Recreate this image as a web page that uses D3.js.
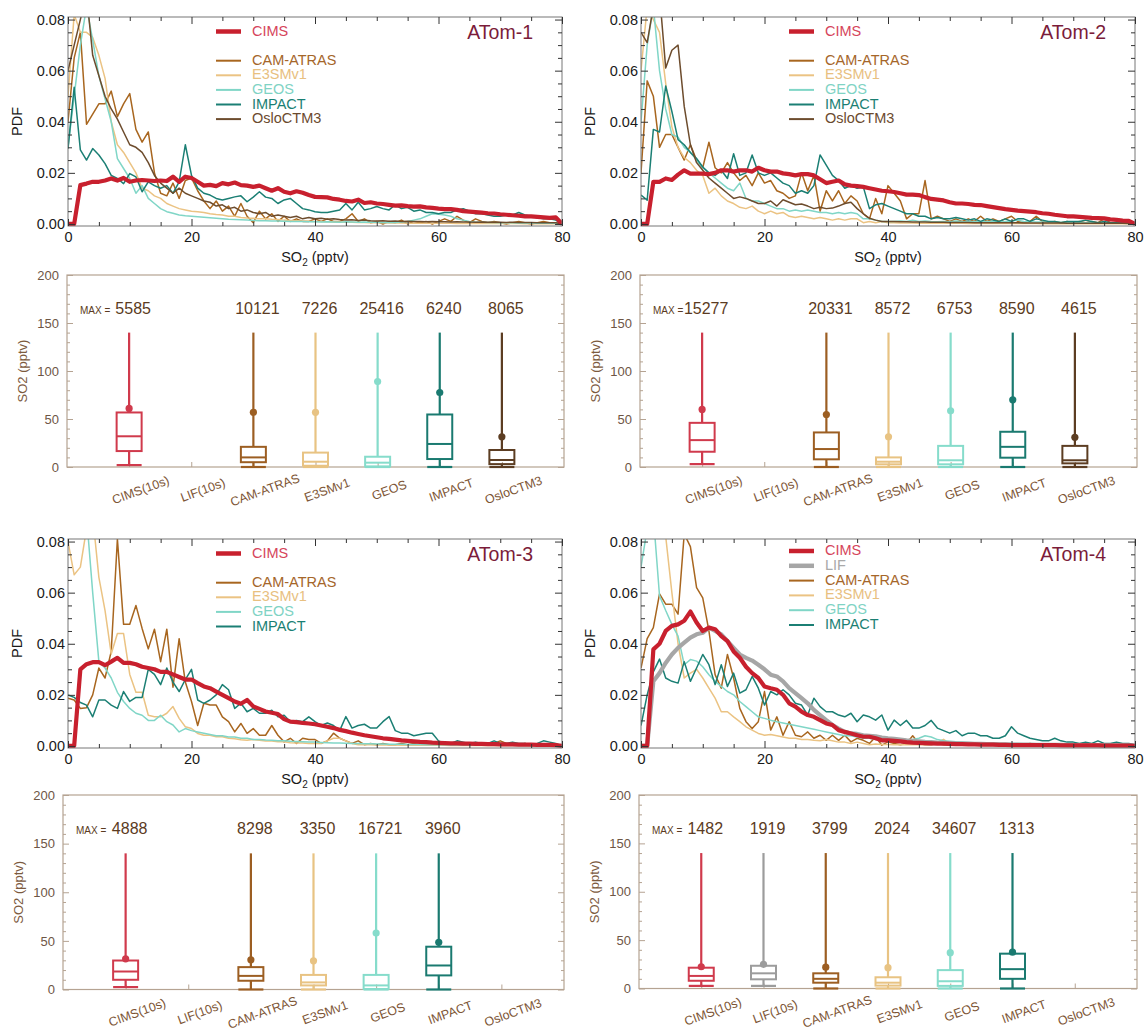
<!DOCTYPE html>
<html><head><meta charset="utf-8">
<script src="https://cdn.jsdelivr.net/npm/d3@7"></script>
<style>body{margin:0;background:#fff;} svg{display:block;}</style>
</head><body>
<script>
// ---------------- DATA ----------------
const so2Bins = [0,1,2,3,4,5,6,7,8,9,10,11,12,13,14,15,16,17,18,19,20,21,22,23,24,25,26,27,28,29,30,31,32,33,34,35,36,37,38,39,40,41,42,43,44,45,46,47,48,49,50,51,52,53,54,55,56,57,58,59,60,61,62,63,64,65,66,67,68,69,70,71,72,73,74,75,76,77,78,79,80];
const pdfXTicks = [0, 20, 40, 60, 80];
const pdfYTicks = [0, 0.02, 0.04, 0.06, 0.08];
const boxYTicks = [0, 50, 100, 150, 200];
const boxCategories = ["CIMS(10s)", "LIF(10s)", "CAM-ATRAS", "E3SMv1", "GEOS", "IMPACT", "OsloCTM3"];
const campaigns = ["ATom-1", "ATom-2", "ATom-3", "ATom-4"];

// ATom-1 PDFs
const atom1Cims = [0,0,.0152,.0158,.0165,.0165,.017,.0178,.017,.018, .0165,.017,.0172,.017,.0168,.017,.0168,.0185,.0165,.0185, .018,.0165,.015,.0153,.0148,.016,.0155,.0162,.0152,.015, .0145,.015,.014,.013,.014,.0126,.012,.0128,.0122,.0113, .0106,.0105,.0104,.0098,.0095,.009,.0088,.0095,.0082,.0085, .008,.0078,.0075,.0072,.0073,.007,.0068,.0069,.0065,.0063, .006,.0058,.0058,.0055,.005,.0048,.0046,.0044,.0042,.0041, .0038,.0036,.0034,.0032,.003,.003,.0028,.0026,.0024,.0026, 0];
const atom1Cam = [.04,.065,.075,.039,.043,.047,.047,.052,.042,.047, .051,.037,.032,.036,.02,.012,.011,.016,.01,.017, .018,.013,.009,.006,.009,.005,.007,.003,.008,.003, .0005,.005,.002,.004,.001,.003,.001,.002,.001,.001, .002,.001,.002,.001,.001,.002,.004,.001,.002,.0005, .001,0,.001,.0005,.0015,0,.001,.0005,.001,0, .001,.002,.001,.003,.0015,.0005,.002,.001,.0005,.001, .0005,0,.0005,.001,.0005,0,.0005,.001,.0005,.0005, 0];
const atom1E3sm = [.05,.082,.075,.075,.073,.066,.057,.04,.031,.028, .024,.02,.014,.013,.011,.01,.008,.007,.006,.0055, .005,.0048,.0045,.004,.0037,.0035,.003,.003,.0025,.0023, .0022,.002,.002,.0018,.0017,.0015,.0014,.0013,.0012,.0011, .001,.001,.0009,.0008,.0008,.0007,.0007,.0006,.0006,.0005, .0005,.0005,.0004,.0004,.0004,.0003,.0003,.0003,.0003,.0003, .0003,.0003,.0003,.0002,.0002,.0002,.0002,.0002,.0002,.0002, .0002,.0002,.0002,.0002,.0001,.0001,.0001,.0001,.0001,.0001, 0];
const atom1Geos = [.03,.05,.07,.085,.072,.058,.049,.04,.0256,.0217, .0178,.012,.015,.01,.008,.006,.0048,.0042,.0035,.0032, .003,.0028,.0026,.0024,.0022,.002,.0018,.0017,.0016,.0015, .0014,.0013,.0013,.0012,.0012,.0011,.001,.001,.001,.0009, .0009,.0008,.0009,.0008,.0007,.0009,.0008,.0007,.0008,.0007, .0007,.0006,.0007,.0006,.0008,.001,.0015,.002,.003,.004, .0038,.0035,.003,.002,.0015,.001,.0008,.0007,.0006,.0006, .0005,.0005,.0005,.0004,.0004,.0004,.0003,.0003,.0003,.0003, 0];
const atom1Impact = [.0295,.0535,.029,.025,.0295,.027,.0236,.019,.0178,.0158, .0197,.0184,.0126,.0165,.015,.014,.015,.012,.0165,.031, .019,.014,.012,.0113,.01,.0094,.01,.0106,.011,.0087, .0105,.0126,.0105,.01,.008,.0094,.01,.008,.006,.0055, .0048,.0045,.0045,.005,.0055,.008,.0055,.0085,.0055,.006, .0068,.006,.0055,.0075,.006,.0065,.005,.0055,.0045,.0045, .004,.0045,.0045,.0055,.006,.005,.004,.004,.0035,.003, .003,.0035,.0035,.0045,.0035,.003,.0025,.002,.002,.0015, 0];
const atom1Oslo = [.06,.07,.08,.09,.066,.058,.05,.045,.041,.036, .031,.03,.028,.024,.019,.016,.014,.012,.014,.012, .011,.01,.009,.0085,.007,.0075,.006,.0065,.005,.0055, .0045,.004,.0045,.003,.0035,.003,.0025,.003,.002,.0025, .002,.0022,.0018,.002,.0017,.0015,.0016,.0014,.0015,.0013, .0012,.0013,.0011,.0012,.001,.0011,.001,.001,.0009,.001, .0009,.0009,.0008,.0009,.0008,.0008,.0007,.0008,.0007,.0007, .0007,.0006,.0007,.0006,.0006,.0006,.0005,.0005,.0005,.0005, 0];

// ATom-2 PDFs
const atom2Cims = [0,0,.0165,.0165,.0178,.0172,.0193,.021,.0197,.0197, .0197,.0195,.02,.021,.021,.0205,.021,.021,.0205,.022, .021,.0205,.0205,.0198,.0195,.019,.0195,.0195,.019,.0175, .016,.0165,.017,.0155,.015,.0148,.0145,.014,.0135,.013, .0128,.0125,.012,.0115,.0115,.0113,.0105,.0098,.0095,.0092, .0085,.008,.008,.0078,.0075,.0074,.007,.0066,.0062,.0058, .0055,.0052,.005,.0048,.0046,.0042,.004,.0036,.0033,.003, .003,.0028,.0026,.0024,.0023,.0022,.0018,.0016,.0013,.0012, 0];
const atom2Cam = [.02,.056,.05,.03,.035,.035,.03,.025,.031,.025, .022,.032,.022,.02,.024,.02,.017,.019,.015,.02, .016,.017,.013,.012,.01,.011,.02,.013,.019,.005, .013,.009,.013,.008,.011,.009,.004,.002,.01,.004, .015,.012,.009,.002,.004,.004,.017,.002,.003,.002, .001,.002,.001,.002,.001,.003,.001,.002,.001,.002, .003,.001,.0005,.001,.003,.001,.0005,.001,.0005,.001, .0005,.001,.0005,.001,.0005,.002,.0005,.0005,.0005,.0005, 0];
const atom2E3sm = [.06,.085,.08,.075,.055,.038,.03,.026,.024,.021, .019,.012,.014,.011,.009,.008,.0065,.006,.007,.005, .004,.005,.004,.0045,.003,.0025,.003,.0025,.002,.0025, .002,.0015,.002,.0015,.002,.002,.0005,.001,.0005,.001, .0005,.0005,.0004,.0004,.0004,.0003,.0003,.0003,.0003,.0003, .0003,.0003,.0003,.0002,.0002,.0002,.0002,.0002,.0002,.0002, .0002,.0002,.0002,.0002,.0002,.0001,.0001,.0001,.0001,.0001, .0001,.0001,.0001,.0001,.0001,.0001,.0001,.0001,.0001,.0001, 0];
const atom2Geos = [.04,.07,.085,.06,.045,.035,.034,.03,.028,.025, .022,.02,.018,.016,.014,.013,.016,.01,.009,.009, .008,.007,.006,.006,.005,.0055,.005,.0055,.005,.0045, .0045,.004,.0045,.004,.0045,.004,.002,.002,.0015,.001, .001,.001,.0012,.001,.0015,.001,.0012,.001,.0009,.001, .0009,.0012,.001,.0009,.001,.0008,.001,.0009,.0008,.001, .0012,.0015,.001,.0009,.0008,.0008,.0007,.0008,.0007,.0006, .0006,.0006,.0005,.0006,.0005,.0005,.0005,.0004,.0004,.0004, 0];
const atom2Impact = [.0113,.0093,.037,.036,.054,.044,.033,.031,.028,.0256, .0223,.02,.019,.021,.0178,.0275,.019,.02,.027,.02, .019,.02,.018,.016,.015,.012,.013,.012,.015,.027, .023,.019,.017,.014,.015,.014,.0145,.006,.0075,.008, .007,.006,.005,.004,.004,.003,.003,.002,.0025,.002, .002,.0025,.002,.0015,.002,.001,.002,.0015,.001,.002, .001,.002,.002,.001,.002,.0015,.001,.001,.0005,.001, .001,.001,.0015,.001,.0005,.001,.0005,.0005,.0005,.0005, 0];
const atom2Oslo = [.075,.071,.085,.09,.061,.068,.07,.046,.031,.024, .021,.018,.016,.014,.012,.01,.0106,.01,.009,.008, .008,.009,.007,.0095,.0085,.0075,.0078,.007,.006,.0065, .006,.0062,.007,.008,.0085,.006,.004,.0022,.0015,.001, .001,.001,.0009,.0009,.0008,.0008,.0008,.0007,.0007,.0007, .0006,.0006,.0006,.0006,.0005,.0005,.0005,.0005,.0005,.0005, .0005,.0005,.0004,.0004,.0004,.0004,.0004,.0004,.0004,.0003, .0003,.0003,.0003,.0003,.0003,.0003,.0003,.0003,.0003,.0002, 0];

// ATom-3 PDFs
const atom3Cims = [0,0,.03,.032,.0328,.0328,.0316,.033,.0345,.0325, .0325,.032,.031,.0305,.03,.029,.029,.028,.027,.026, .026,.0246,.0233,.0226,.0213,.02,.0187,.0174,.0165,.018, .0155,.0145,.0135,.013,.0125,.0105,.0095,.0093,.009,.0088, .0085,.008,.0075,.007,.0063,.0058,.0052,.0047,.0042,.0038, .0034,.003,.0028,.0025,.0022,.002,.0018,.0016,.0015,.0013, .0012,.0011,.001,.001,.0009,.0009,.0008,.0008,.0007,.0007, .0006,.0006,.0006,.0005,.0005,.0005,.0004,.0004,.0004,.0003, 0];
const atom3Cam = [.0187,.018,.0147,.015,.02,.0305,.0266,.037,.081,.0476, .0476,.055,.046,.038,.0457,.033,.0457,.023,.042,.025, .0174,.008,.0167,.016,.016,.0114,.0095,.0055,.0088,.0049, .0068,.0042,.0042,.008,.0042,.0016,.003,.001,.003,.0025, .0025,.001,.002,.005,.003,.002,.001,.002,.0005,.001, .0005,.001,.0005,.0005,.001,.0005,.001,.0005,.0005,.001, .0005,.001,.0005,.0005,.001,.0005,.0005,.001,.0005,.001, .002,.001,.0005,.0005,.001,.0005,.0005,.0005,.0005,.0005, 0];
const atom3E3sm = [.08,.067,.07,.085,.09,.066,.053,.036,.044,.044, .028,.021,.021,.012,.0114,.0114,.0128,.0154,.0108,.0075, .0068,.0049,.0042,.0042,.0036,.0036,.003,.0028,.0024,.0022, .0025,.0022,.0019,.0019,.0016,.0016,.0013,.0012,.0012,.001, .001,.001,.002,.003,.003,.002,.001,.0005,.0005,.0005, .0004,.0004,.0004,.0004,.0003,.0003,.0003,.0003,.0003,.0003, .0003,.0003,.0002,.0002,.0002,.0002,.0002,.0002,.0002,.0002, .0002,.0002,.0002,.0002,.0002,.0001,.0001,.0001,.0001,.0001, 0];
const atom3Geos = [.12,.11,.1,.09,.06,.033,.0305,.0266,.021,.0174, .0147,.0128,.012,.01,.01,.012,.0095,.0082,.0055,.0068, .006,.0055,.005,.0045,.004,.004,.0035,.0035,.003,.003, .0025,.0025,.0023,.0022,.002,.002,.0018,.0017,.0016,.0015, .0015,.0014,.0013,.0012,.0012,.0011,.001,.001,.0009,.0009, .0008,.0008,.0007,.0007,.0007,.0006,.0006,.0006,.0005,.0005, .0005,.0005,.0004,.0004,.0004,.0004,.0003,.0003,.0003,.0003, .0003,.0003,.0003,.0002,.0002,.0002,.0002,.0002,.0002,.0002, 0];
const atom3Impact = [.02,.019,.017,.016,.0114,.018,.018,.016,.0147,.0213, .0174,.019,.019,.03,.028,.024,.0305,.025,.0213,.026, .03,.018,.0167,.018,.02,.024,.022,.0147,.0167,.0134, .0147,.0128,.0128,.014,.0114,.012,.0095,.01,.0095,.0114, .0095,.008,.009,.008,.006,.0115,.007,.008,.0085,.007, .007,.0095,.0115,.006,.005,.005,.004,.0045,.005,.005, .002,.001,.001,.002,.0015,.001,.0015,.001,.001,.002, .001,.001,.0015,.001,.001,.0005,.001,.002,.0015,.001, 0];

// ATom-4 PDFs
const atom4Cims = [0,0,.0378,.04,.045,.047,.0476,.049,.0526,.0483, .045,.0463,.0457,.043,.041,.037,.0345,.031,.0285,.0266, .0233,.0226,.022,.02,.0167,.0154,.0134,.0121,.0114,.0101, .0088,.0082,.0062,.0055,.0049,.0042,.0036,.0036,.003,.0022, .0022,.002,.0018,.0015,.0013,.0012,.0011,.001,.0009,.0009, .0008,.0007,.0007,.0006,.0006,.0005,.0005,.0005,.0004,.0004, .0003,.0003,.0003,.0003,.0003,.0003,.0003,.0003,.0002,.0002, .0002,.0002,.0002,.0002,.0002,.0001,.0001,.0001,.0001,.0001, 0];
const atom4Lif = [0,0,.0253,.0285,.0325,.0358,.0384,.0404,.0424,.0437, .0443,.0463,.045,.0437,.041,.0384,.0358,.0345,.0334,.0318, .03,.0279,.0272,.0253,.0226,.0207,.0187,.0167,.0141,.0121, .0101,.0082,.0068,.0055,.0049,.0047,.0042,.004,.0038,.0033, .003,.0028,.0025,.0022,.002,.0018,.0016,.0015,.0013,.0012, .001,.001,.0009,.0009,.0008,.0008,.0007,.0007,.0006,.0006, .0005,.0005,.0005,.0005,.0004,.0004,.0004,.0004,.0004,.0003, .0003,.0003,.0003,.0003,.0003,.0002,.0002,.0002,.0002,.0002, 0];
const atom4Cam = [.0305,.042,.0463,.0595,.0555,.0555,.0516,.083,.078,.062, .058,.045,.0279,.0226,.0358,.0266,.0147,.0095,.0068,.0095, .0213,.0062,.0114,.0042,.0095,.0042,.0036,.0055,.003,.0042, .0022,.0042,.0022,.0042,.0016,.003,.0022,.001,.0036,.0003, .0016,.001,.0005,.001,.004,.001,.0005,.0005,.001,.0005, .0005,.0005,.001,.0005,.0005,.0005,.001,.0005,.0005,.0005, .0005,.0005,.0005,.001,.0005,.0005,.0005,.0005,.0005,.0005, .0005,.0003,.0003,.0003,.0003,.0003,.0003,.0003,.0003,.0003, 0];
const atom4E3sm = [.11,.1,.095,.09,.082,.06,.04,.0266,.0285,.03, .0266,.0226,.0187,.0134,.0134,.0114,.0095,.0075,.0062,.0049, .0042,.0045,.004,.0035,.003,.003,.0025,.0025,.0022,.002, .0025,.002,.0015,.0015,.001,.0015,.001,.0005,.0008,.0006, .0006,.0005,.0005,.0005,.0005,.0005,.0005,.0008,.0015,.0026, .0008,.0004,.0004,.0003,.0003,.0003,.0003,.0003,.0003,.0002, .0002,.0002,.0002,.0002,.0002,.0002,.0002,.0002,.0001,.0001, .0001,.0001,.0001,.0001,.0001,.0001,.0001,.0001,.0001,.0001, 0];
const atom4Geos = [.07,.085,.09,.0588,.053,.0476,.043,.0318,.0338,.0332, .031,.0279,.0253,.0233,.0213,.02,.0174,.0154,.0134,.0114, .0108,.0101,.0095,.009,.0085,.008,.0075,.007,.0065,.006, .0055,.005,.0045,.004,.004,.0035,.003,.003,.0025,.0025, .0025,.0022,.002,.0022,.0025,.003,.004,.0035,.0025,.002, .0018,.0016,.0015,.0014,.0013,.0012,.0012,.0011,.001,.001, .001,.001,.0009,.0009,.0009,.0008,.0008,.0008,.0008,.0007, .0007,.0007,.0007,.0006,.0006,.0006,.0006,.0005,.0005,.0005, 0];
const atom4Impact = [.008,.02,.029,.034,.0266,.0253,.0246,.033,.0253,.0305, .0358,.0318,.024,.0318,.0233,.0285,.0207,.022,.0272,.0226, .016,.0213,.02,.022,.02,.0167,.016,.0121,.0187,.0154, .0134,.0134,.0121,.0114,.0128,.0095,.0121,.0114,.0101,.0121, .0062,.0101,.008,.01,.007,.007,.008,.01,.007,.006, .005,.006,.004,.005,.005,.004,.004,.003,.003,.004, .0075,.005,.004,.003,.0025,.002,.002,.003,.002,.0015, .0015,.001,.0015,.001,.002,.001,.001,.0015,.001,.001, .0005];

// Box statistics (pptv), order = boxCategories; null = not available
const atom1BoxLow  = [2, null, 0, 0, 0, 0, 0];
const atom1BoxQ1   = [16.6, null, 5, 1.3, 0.6, 8.3, 3];
const atom1BoxMed  = [32, null, 10, 5.5, 4.5, 24, 7.3];
const atom1BoxQ3   = [56.8, null, 21, 15, 10.7, 54.7, 17.7];
const atom1BoxHigh = [140, null, 140, 140, 140, 140, 140];
const atom1BoxMean = [61, null, 57, 57, 89, 77.6, 31.5];
const atom1BoxMax  = [5585, null, 10121, 7226, 25416, 6240, 8065];

const atom2BoxLow  = [3, null, 0, 0, 0, 0, 0];
const atom2BoxQ1   = [15.9, null, 8, 2.8, 2.8, 9.7, 3.8];
const atom2BoxMed  = [28, null, 18.7, 5.5, 7, 21, 7];
const atom2BoxQ3   = [46, null, 36, 10, 22, 36.7, 22];
const atom2BoxHigh = [140, null, 140, 140, 140, 140, 140];
const atom2BoxMean = [60, null, 54.7, 31.5, 58.5, 70, 31];
const atom2BoxMax  = [15277, null, 20331, 8572, 6753, 8590, 4615];

const atom3BoxLow  = [2.5, null, 0, 0, 0, 0, null];
const atom3BoxQ1   = [10, null, 9, 4.2, 0.5, 14.5, null];
const atom3BoxMed  = [18.5, null, 14, 7.3, 4.2, 24.7, null];
const atom3BoxQ3   = [29.8, null, 23, 15, 15, 44, null];
const atom3BoxHigh = [140, null, 140, 140, 140, 140, null];
const atom3BoxMean = [31.5, null, 30.5, 29.5, 58, 48.6, null];
const atom3BoxMax  = [4888, null, 8298, 3350, 16721, 3960, null];

const atom4BoxLow  = [2.7, 2.7, 0, 0, 0, 0, null];
const atom4BoxQ1   = [8, 9.5, 6, 3, 2.7, 10, null];
const atom4BoxMed  = [13, 15.7, 10, 6, 7.5, 20, null];
const atom4BoxQ3   = [21.5, 23.5, 15.7, 11.6, 19, 36, null];
const atom4BoxHigh = [140, 140, 140, 140, 140, 140, null];
const atom4BoxMean = [22.5, 25, 22, 21.5, 37, 37.5, null];
const atom4BoxMax  = [1482, 1919, 3799, 2024, 34607, 1313, null];

// ---------------- STYLE / LAYOUT ----------------
const FONT = '"Liberation Sans", Arial, Helvetica, sans-serif';
const LINE_COLORS = {"CIMS":"#c8202e","LIF":"#a6a6a6","CAM-ATRAS":"#a8661f","E3SMv1":"#ebc383","GEOS":"#80d6c7","IMPACT":"#1b7f74","OsloCTM3":"#6d4c2d"};
const TEXT_COLORS = {"CIMS":"#d6455b","LIF":"#a9a9a9","CAM-ATRAS":"#a5662a","E3SMv1":"#e8c080","GEOS":"#7fd3c4","IMPACT":"#1a7f73","OsloCTM3":"#6b4a2e"};
const BOX_COLORS = ["#d03a4c","#9c9c9c","#9c5e22","#e8c383","#86dccb","#1a7a70","#5c3d22"];

const PW = 494, PH = 209;
const pdfLayout = [{left:68,top:17},{left:641,top:17},{left:68,top:539},{left:641,top:539}];
const boxLayout = [{left:67,right:564,top:275,bottom:467},{left:640,right:1137,top:275,bottom:467},
                   {left:63,right:564,top:795,bottom:989.5},{left:639,right:1137,top:795,bottom:988.5}];

const pdfPanels = [
  {title: campaigns[0], obs: [["CIMS", atom1Cims]], models: [["CAM-ATRAS", atom1Cam],["E3SMv1", atom1E3sm],["GEOS", atom1Geos],["IMPACT", atom1Impact],["OsloCTM3", atom1Oslo]], gap: true},
  {title: campaigns[1], obs: [["CIMS", atom2Cims]], models: [["CAM-ATRAS", atom2Cam],["E3SMv1", atom2E3sm],["GEOS", atom2Geos],["IMPACT", atom2Impact],["OsloCTM3", atom2Oslo]], gap: true},
  {title: campaigns[2], obs: [["CIMS", atom3Cims]], models: [["CAM-ATRAS", atom3Cam],["E3SMv1", atom3E3sm],["GEOS", atom3Geos],["IMPACT", atom3Impact]], gap: true},
  {title: campaigns[3], obs: [["CIMS", atom4Cims],["LIF", atom4Lif]], models: [["CAM-ATRAS", atom4Cam],["E3SMv1", atom4E3sm],["GEOS", atom4Geos],["IMPACT", atom4Impact]], gap: false}
];
const boxPanels = [
  {low: atom1BoxLow, q1: atom1BoxQ1, med: atom1BoxMed, q3: atom1BoxQ3, high: atom1BoxHigh, mean: atom1BoxMean, max: atom1BoxMax},
  {low: atom2BoxLow, q1: atom2BoxQ1, med: atom2BoxMed, q3: atom2BoxQ3, high: atom2BoxHigh, mean: atom2BoxMean, max: atom2BoxMax},
  {low: atom3BoxLow, q1: atom3BoxQ1, med: atom3BoxMed, q3: atom3BoxQ3, high: atom3BoxHigh, mean: atom3BoxMean, max: atom3BoxMax},
  {low: atom4BoxLow, q1: atom4BoxQ1, med: atom4BoxMed, q3: atom4BoxQ3, high: atom4BoxHigh, mean: atom4BoxMean, max: atom4BoxMax}
];

const svg = d3.select("body").append("svg").attr("width", 1146).attr("height", 1034)
  .style("font-family", FONT);
svg.append("rect").attr("width",1146).attr("height",1034).attr("fill","#fff");

function styleAxis(g, fs, textFill, lineStroke) {
  g.attr("font-family", FONT).attr("font-size", fs);
  g.select(".domain").remove();
  g.selectAll("text").attr("fill", textFill);
  g.selectAll("line").attr("stroke", lineStroke).attr("stroke-width", 1);
}

// ---------------- PDF PANELS ----------------
pdfPanels.forEach((p, pi) => {
  const L = pdfLayout[pi];
  const g = svg.append("g");
  const x = d3.scaleLinear().domain([0, 80]).range([L.left, L.left + PW]);
  const y = d3.scaleLinear().domain([-0.0008, 0.081]).range([L.top + PH, L.top]);
  const clipId = "pclip" + pi;
  svg.append("clipPath").attr("id", clipId).append("rect")
    .attr("x", L.left).attr("y", L.top).attr("width", PW).attr("height", PH);
  const line = d3.line().x((d, i) => x(so2Bins[i])).y(d => y(d));
  const lg = g.append("g").attr("clip-path", `url(#${clipId})`);
  p.models.forEach(([name, vals]) => {
    lg.append("path").datum(vals).attr("d", line).attr("fill", "none")
      .attr("stroke", LINE_COLORS[name]).attr("stroke-width", 1.5).attr("stroke-linejoin", "round");
  });
  p.obs.slice().reverse().forEach(([name, vals]) => {
    lg.append("path").datum(vals).attr("d", line).attr("fill", "none")
      .attr("stroke", LINE_COLORS[name]).attr("stroke-width", 4.2).attr("stroke-linejoin", "round");
  });

  // frame
  g.append("rect").attr("x", L.left).attr("y", L.top).attr("width", PW).attr("height", PH)
    .attr("fill", "none").attr("stroke", "#777").attr("stroke-width", 1);

  const yMinor = d3.range(0.005, 0.08, 0.005).filter(v => Math.abs(v / 0.02 - Math.round(v / 0.02)) > 1e-6);
  const xMinor = d3.range(5, 80, 5).filter(v => v % 20 !== 0);
  const tc = "#333";
  styleAxis(g.append("g").attr("transform", `translate(${L.left},0)`)
    .call(d3.axisLeft(y).tickValues(pdfYTicks).tickFormat(d3.format(".2f")).tickSize(-7).tickPadding(3)), 14.5, "#1a1a1a", tc);
  styleAxis(g.append("g").attr("transform", `translate(${L.left},0)`)
    .call(d3.axisLeft(y).tickValues(yMinor).tickFormat("").tickSize(-4)), 10, "#000", tc);
  styleAxis(g.append("g").attr("transform", `translate(${L.left + PW},0)`)
    .call(d3.axisRight(y).tickValues(pdfYTicks).tickFormat("").tickSize(-7)), 10, "#000", tc);
  styleAxis(g.append("g").attr("transform", `translate(${L.left + PW},0)`)
    .call(d3.axisRight(y).tickValues(yMinor).tickFormat("").tickSize(-4)), 10, "#000", tc);
  styleAxis(g.append("g").attr("transform", `translate(0,${L.top + PH})`)
    .call(d3.axisBottom(x).tickValues(pdfXTicks).tickFormat(d3.format("d")).tickSize(-7).tickPadding(6)), 14.5, "#1a1a1a", tc);
  styleAxis(g.append("g").attr("transform", `translate(0,${L.top + PH})`)
    .call(d3.axisBottom(x).tickValues(xMinor).tickFormat("").tickSize(-4)), 10, "#000", tc);
  styleAxis(g.append("g").attr("transform", `translate(0,${L.top})`)
    .call(d3.axisTop(x).tickValues(pdfXTicks).tickFormat("").tickSize(-7)), 10, "#000", tc);
  styleAxis(g.append("g").attr("transform", `translate(0,${L.top})`)
    .call(d3.axisTop(x).tickValues(xMinor).tickFormat("").tickSize(-4)), 10, "#000", tc);

  // axis titles
  const xt = g.append("text").attr("x", L.left + PW / 2).attr("y", L.top + PH + 36)
    .attr("text-anchor", "middle").attr("font-size", 14.5).attr("fill", "#1a1a1a");
  xt.append("tspan").text("SO");
  xt.append("tspan").text("2").attr("font-size", 10).attr("dy", 4);
  xt.append("tspan").text(" (pptv)").attr("dy", -4);
  g.append("text").attr("transform", `translate(${L.left - 46},${L.top + PH / 2}) rotate(-90)`)
    .attr("text-anchor", "middle").attr("font-size", 14.5).attr("fill", "#1a1a1a").text("PDF");

  // campaign title
  g.append("text").attr("x", L.left + PW - 29).attr("y", L.top + 22).attr("text-anchor", "end")
    .attr("font-size", 19.5).attr("fill", "#7b1c3a").text(p.title);

  // legend
  const entries = [];
  p.obs.forEach(o => entries.push({name: o[0], obs: true}));
  if (p.gap) entries.push(null);
  p.models.forEach(m => entries.push({name: m[0], obs: false}));
  const y0 = p.gap ? 13.5 : 11, dyRow = p.gap ? 14.6 : 14.8;
  entries.forEach((e, k) => {
    if (!e) return;
    const yy = L.top + y0 + dyRow * k;
    g.append("line").attr("x1", L.left + 148).attr("x2", L.left + 173).attr("y1", yy + 1).attr("y2", yy + 1)
      .attr("stroke", LINE_COLORS[e.name]).attr("stroke-width", e.obs ? 4.5 : 2);
    g.append("text").attr("x", L.left + 184).attr("y", yy + 5).attr("font-size", 14.5)
      .attr("fill", TEXT_COLORS[e.name]).text(e.name);
  });
});

// ---------------- BOX PANELS ----------------
boxPanels.forEach((b, bi) => {
  const L = boxLayout[bi];
  const g = svg.append("g");
  const x = d3.scaleLinear().domain([0, 8]).range([L.left, L.right]);
  const y = d3.scaleLinear().domain([0, 200]).range([L.bottom, L.top]);
  const fc = "#b5a392";
  g.append("rect").attr("x", L.left).attr("y", L.top).attr("width", L.right - L.left).attr("height", L.bottom - L.top)
    .attr("fill", "none").attr("stroke", fc).attr("stroke-width", 1.2);
  const yMinor = d3.range(10, 200, 10).filter(v => v % 50 !== 0);
  const labFill = "#6e5645";
  styleAxis(g.append("g").attr("transform", `translate(${L.left},0)`)
    .call(d3.axisLeft(y).tickValues(boxYTicks).tickFormat(d3.format("d")).tickSize(-6).tickPadding(8)), 13, labFill, fc);
  styleAxis(g.append("g").attr("transform", `translate(${L.left},0)`)
    .call(d3.axisLeft(y).tickValues(yMinor).tickFormat("").tickSize(-3)), 10, labFill, fc);
  styleAxis(g.append("g").attr("transform", `translate(${L.right},0)`)
    .call(d3.axisRight(y).tickValues(boxYTicks).tickFormat("").tickSize(-6)), 10, labFill, fc);
  styleAxis(g.append("g").attr("transform", `translate(${L.right},0)`)
    .call(d3.axisRight(y).tickValues(yMinor).tickFormat("").tickSize(-3)), 10, labFill, fc);
  styleAxis(g.append("g").attr("transform", `translate(0,${L.bottom})`)
    .call(d3.axisBottom(x).tickValues(boxCategories.map((c, i) => i + 1)).tickFormat("").tickSize(-5)), 10, labFill, fc);

  g.append("text").attr("transform", `translate(${L.left - 40},${(L.top + L.bottom) / 2}) rotate(-90)`)
    .attr("text-anchor", "middle").attr("font-size", 13).attr("fill", "#7c5a3e").text("SO2 (pptv)");

  // category labels
  boxCategories.forEach((c, i) => {
    g.append("text").attr("transform", `translate(${x(i + 1) + 13},${L.bottom + 27}) rotate(-20)`)
      .attr("text-anchor", "middle").attr("font-size", 12.5).attr("fill", "#7d5535").text(c);
  });

  // MAX labels
  g.append("text").attr("x", L.left + 13).attr("y", L.top + 39).attr("font-size", 10)
    .attr("fill", "#5b3b22").text("MAX =");
  b.max.forEach((m, i) => {
    if (m == null) return;
    g.append("text").attr("x", x(i + 1) + 4).attr("y", L.top + 39).attr("text-anchor", "middle")
      .attr("font-size", 16).attr("fill", "#5b3b22").text(m);
  });

  // boxes
  const hw = 12.5;
  boxCategories.forEach((c, i) => {
    if (b.q1[i] == null) return;
    const cx = x(i + 1), col = BOX_COLORS[i];
    g.append("line").attr("x1", cx).attr("x2", cx).attr("y1", y(b.q3[i])).attr("y2", y(b.high[i]))
      .attr("stroke", col).attr("stroke-width", 2.2);
    g.append("line").attr("x1", cx).attr("x2", cx).attr("y1", y(b.q1[i])).attr("y2", y(b.low[i]))
      .attr("stroke", col).attr("stroke-width", 2.2);
    g.append("line").attr("x1", cx - hw).attr("x2", cx + hw).attr("y1", y(b.low[i])).attr("y2", y(b.low[i]))
      .attr("stroke", col).attr("stroke-width", 2.2);
    g.append("rect").attr("x", cx - hw).attr("width", 2 * hw).attr("y", y(b.q3[i])).attr("height", y(b.q1[i]) - y(b.q3[i]))
      .attr("fill", "none").attr("stroke", col).attr("stroke-width", 2);
    g.append("line").attr("x1", cx - hw).attr("x2", cx + hw).attr("y1", y(b.med[i])).attr("y2", y(b.med[i]))
      .attr("stroke", col).attr("stroke-width", 2);
    g.append("circle").attr("cx", cx).attr("cy", y(b.mean[i])).attr("r", 3.6).attr("fill", col);
  });
});
</script>
</body></html>
